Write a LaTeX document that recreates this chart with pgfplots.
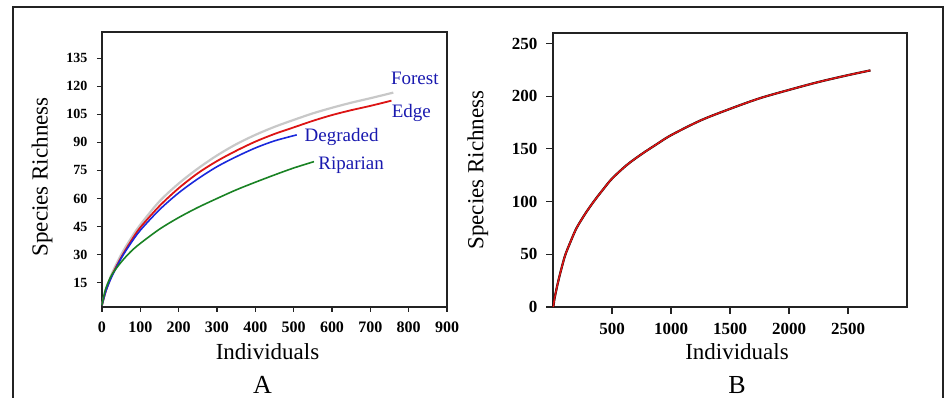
\documentclass[border=0pt]{standalone}
\usepackage{fontspec}
\setmainfont{Liberation Serif}
\usepackage{pgfplots}
\pgfplotsset{compat=1.18}
\definecolor{cGray}{RGB}{200,200,200}
\definecolor{cRed}{RGB}{220,20,20}
\definecolor{cBlue}{RGB}{25,40,220}
\definecolor{cGreen}{RGB}{25,130,35}
\definecolor{cLab}{RGB}{25,25,175}
\definecolor{cAx}{RGB}{35,35,35}
\begin{document}
\begin{tikzpicture}[x=1pt,y=1pt]
\useasboundingbox (0,0) rectangle (946,398);
\draw[line width=2pt,cAx] (13,-5) -- (13,391) -- (943,391) -- (943,-5);
\pgfplotsset{
  every axis/.append style={
    scale only axis,
    axis line style={cAx,line width=1.5pt},
    every tick/.style={cAx,line width=1.1pt},
    tick pos=left,
    tick align=outside,
    /pgf/number format/assume math mode=true,
    /pgf/number format/1000 sep={},
    clip=false,
  }
}
% Panel A
\begin{axis}[
  at={(102pt,91pt)}, anchor=south west,
  width=345pt, height=275pt,
  xmin=0, xmax=900, ymin=2, ymax=149,
  xtick={0,100,...,900}, ytick={15,30,...,135},
  major tick length=5pt,
  xticklabel style={font=\bfseries\fontsize{16}{16}\selectfont, yshift=-6pt},
  yticklabel style={font=\bfseries\fontsize{14}{14}\selectfont, xshift=-6pt},
  xlabel={Individuals},
  ylabel={Species Richness},
  xlabel style={font=\fontsize{23}{23}\selectfont, at={(axis description cs:0.5,0)}, anchor=center, yshift=-45pt, xshift=-7pt},
  ylabel style={font=\fontsize{23}{23}\selectfont, at={(axis description cs:-0.174,0.473)}, anchor=center},
]
\addplot[cGray, line width=2.2pt, smooth] coordinates {
(0,3) (10,11) (25,19.5) (50,30) (75,38.5) (100,46) (150,58.5) (200,68) (250,76) (300,83) (350,89) (400,94) (450,98.3) (500,102) (550,105.5) (600,108.5) (650,111.2) (700,113.6) (760,116.6)};
\addplot[cRed, line width=1.8pt, smooth] coordinates {
(0,3) (10,10.5) (25,18.5) (50,28.5) (75,37) (100,44.5) (150,56) (200,65.5) (250,73.5) (300,80) (350,85.5) (400,90.4) (450,94.5) (500,98) (550,101.5) (600,104.6) (650,107.2) (700,109.5) (755,112.3)};
\addplot[cBlue, line width=1.6pt, smooth] coordinates {
(0,3) (10,10.5) (25,18) (50,28) (75,36) (100,43) (150,54) (200,63) (250,70.5) (300,77) (350,82.3) (400,87) (450,90.8) (508,94)};
\addplot[cGreen, line width=1.6pt, smooth] coordinates {
(0,3) (5,8) (10,12) (25,19) (50,26) (75,31.6) (100,36) (150,43.6) (200,49.8) (250,55.2) (300,60) (350,64.6) (400,68.7) (450,72.6) (500,76.3) (553,79.7)};
\node[cLab, font=\fontsize{19}{19}\selectfont] at (axis cs:816,124) {Forest};
\node[cLab, font=\fontsize{19}{19}\selectfont] at (axis cs:807,105.7) {Edge};
\node[cLab, font=\fontsize{19}{19}\selectfont] at (axis cs:625,92.7) {Degraded};
\node[cLab, font=\fontsize{19}{19}\selectfont] at (axis cs:650,78) {Riparian};
\node[font=\fontsize{26}{26}\selectfont, inner sep=0pt] at (axis description cs:0.5,0) [xshift=-12pt, yshift=-78pt] {A};
\end{axis}
% Panel B
\begin{axis}[
  at={(553pt,91pt)}, anchor=south west,
  width=354pt, height=274pt,
  xmin=0, xmax=3000, ymin=0, ymax=260,
  xtick={500,1000,...,2500}, ytick={0,50,...,250},
  major tick length=7pt,
  xticklabel style={font=\bfseries\fontsize{17}{17}\selectfont, yshift=-6pt},
  yticklabel style={font=\bfseries\fontsize{17}{17}\selectfont, xshift=-5pt},
  xlabel={Individuals},
  ylabel={Species Richness},
  xlabel style={font=\fontsize{23}{23}\selectfont, at={(axis description cs:0.5,0)}, anchor=center, yshift=-45pt, xshift=7pt},
  ylabel style={font=\fontsize{23}{23}\selectfont, at={(axis description cs:-0.212,0.5)}, anchor=center},
]
\addplot[black, line width=2.2pt, smooth] coordinates {
(3,0) (10,6) (20,12) (50,27) (100,48) (150,62.3) (200,75) (275,88.8) (350,100.8) (425,111.6) (500,121.8) (625,134.7) (750,145) (875,154.2) (1000,163) (1250,177) (1500,188) (1750,198) (2000,206) (2250,213.5) (2500,220) (2690,224.5)};
\addplot[cRed, line width=1.6pt, smooth] coordinates {
(3,0) (10,6) (20,12) (50,27) (100,48) (150,62.3) (200,75) (275,88.8) (350,100.8) (425,111.6) (500,121.8) (625,134.7) (750,145) (875,154.2) (1000,163) (1250,177) (1500,188) (1750,198) (2000,206) (2250,213.5) (2500,220) (2690,224.5)};
\node[font=\fontsize{26}{26}\selectfont, inner sep=0pt] at (axis description cs:0.5,0) [xshift=7pt, yshift=-78pt] {B};
\end{axis}
\end{tikzpicture}
\end{document}
